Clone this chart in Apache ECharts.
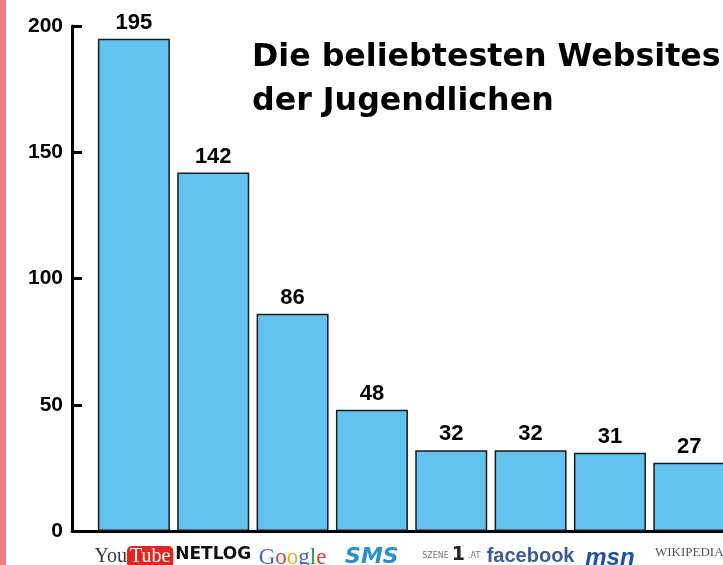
<!DOCTYPE html>
<html>
<head>
<meta charset="utf-8">
<script src="https://cdn.jsdelivr.net/npm/echarts@6/dist/echarts.min.js"></script>
<style>
  html, body { margin: 0; padding: 0; background: #fff; overflow: hidden; }
  #chart { width: 723px; height: 565px; }
  #strip { position: absolute; left: 0; top: 0; width: 6px; height: 565px; background: #f07e85; }
</style>
</head>
<body>
<div id="chart"></div>
<div id="strip"></div>
<script>
// Websites (Logos an der x-Achse) und Anzahl Nennungen
const sites = ['YouTube', 'NETLOG', 'Google', 'SMS', 'szene1.at', 'facebook', 'msn', 'Wikipedia'];
const votes = [195, 142, 86, 48, 32, 32, 31, 27];
const yTicks = [0, 50, 100, 150, 200];

const logoText = {
  'YouTube': '{yt|You}{ytb|Tube}',
  'NETLOG': '{nl|NETLOG}',
  'Google': '{gb|G}{gr|o}{gy|o}{gb|g}{gg|l}{gr|e}',
  'SMS': '{sms|SMS}',
  'szene1.at': '{sz|SZENE}{sz1|1}{sz|.AT}',
  'facebook': '{fb|facebook}',
  'msn': '{msn|msn}',
  'Wikipedia': '{wk|WIKIPEDIA}'
};

const chart = echarts.init(document.getElementById('chart'));
chart.setOption({
  animation: false,
  title: {
    text: 'Die beliebtesten Websites\nder Jugendlichen',
    left: 247,
    top: 31,
    textStyle: {
      fontFamily: 'DejaVu Sans',
      fontWeight: 'bold',
      fontSize: 31.7,
      lineHeight: 44,
      color: '#000'
    }
  },
  grid: { left: 72, right: 0, top: 26, bottom: 34, outerBoundsMode: 'none', containLabel: false },
  xAxis: {
    type: 'value',
    min: -0.78,
    max: 7.425,
    splitLine: { show: false },
    axisTick: { show: false },
    axisLine: { show: true, onZero: false, lineStyle: { color: '#000', width: 3 } },
    axisLabel: {
      customValues: sites.map((s, i) => i),
      margin: 15,
      formatter: v => logoText[sites[Math.round(v)]] || '',
      rich: {
        yt: { color: '#3a3a3a', fontSize: 20, fontFamily: 'Liberation Sans Narrow' },
        ytb: { color: '#fff', backgroundColor: '#e3261d', borderRadius: 5, fontSize: 20, padding: [1, 3], fontFamily: 'Liberation Sans Narrow' },
        nl: { color: '#111', fontSize: 17, fontWeight: 'bold', fontFamily: 'DejaVu Sans' },
        gb: { color: '#3d64c8', fontSize: 23, fontFamily: 'Liberation Serif' },
        gr: { color: '#d6402e', fontSize: 23, fontFamily: 'Liberation Serif' },
        gy: { color: '#e8b020', fontSize: 23, fontFamily: 'Liberation Serif' },
        gg: { color: '#3a9a3a', fontSize: 23, fontFamily: 'Liberation Serif' },
        sms: { color: '#2a8fd0', fontSize: 22, fontWeight: 'bold', fontStyle: 'italic', fontFamily: 'DejaVu Sans' },
        sz: { color: '#777', fontSize: 8, fontFamily: 'DejaVu Sans' },
        sz1: { color: '#222', fontSize: 19, fontWeight: 'bold', fontFamily: 'DejaVu Sans', padding: [0, 3] },
        fb: { color: '#3b5a9a', fontSize: 20, fontWeight: 'bold', fontFamily: 'Liberation Sans' },
        msn: { color: '#1c4fa6', fontSize: 24, fontWeight: 'bold', fontStyle: 'italic', fontFamily: 'Liberation Sans' },
        wk: { color: '#555', fontSize: 13, fontFamily: 'Liberation Serif' }
      }
    }
  },
  yAxis: {
    type: 'value',
    min: 0,
    max: 200,
    interval: 50,
    splitLine: { show: false },
    axisLine: { show: true, onZero: false, lineStyle: { color: '#000', width: 3 } },
    axisTick: { show: true, inside: true, length: 10, lineStyle: { color: '#000', width: 3 } },
    axisLabel: {
      margin: 9,
      color: '#000',
      fontSize: 21,
      fontWeight: 'bold',
      fontFamily: 'Liberation Sans',
      formatter: v => yTicks.includes(v) ? String(v) : ''
    }
  },
  series: [{
    type: 'bar',
    barWidth: 72,
    data: votes.map((v, i) => [i, v]),
    itemStyle: { color: '#62c3ef', borderColor: '#1a1a1a', borderWidth: 1.5 },
    label: {
      show: true,
      position: 'top',
      distance: 5,
      color: '#000',
      fontSize: 22,
      fontWeight: 'bold',
      fontFamily: 'Liberation Sans',
      formatter: p => p.value[1]
    }
  }]
});
</script>
</body>
</html>
